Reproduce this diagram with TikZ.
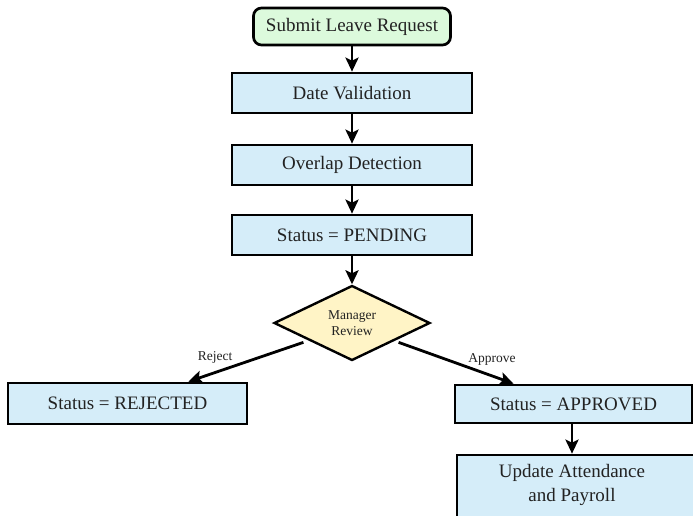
\documentclass[tikz,border=0pt]{standalone}
\usepackage{fontspec}
\setmainfont{Liberation Serif}
\usetikzlibrary{shapes.geometric,arrows.meta,calc}
\definecolor{boxblue}{HTML}{D5EDF9}
\definecolor{boxgreen}{HTML}{DCFADC}
\definecolor{boxyellow}{HTML}{FFF4C6}
\definecolor{txt}{HTML}{222222}
\tikzset{
  procbox/.style={draw=black, line width=2.7pt, fill=boxblue, inner sep=0pt,
    text=txt, font=\fontsize{19}{24}\selectfont, align=center},
  startbox/.style={procbox, fill=boxgreen, rounded corners=8pt},
  decbox/.style={draw=black, line width=2.4pt, fill=boxyellow, diamond, aspect=2,
    inner sep=0pt, minimum width=156pt, minimum height=75pt, text=txt,
    font=\fontsize{13.5}{16}\selectfont, align=center},
  flow/.style={line width=2.8pt, -{Stealth[length=14pt,width=13pt,inset=3pt]}},
  lbl/.style={text=txt, font=\fontsize{13.5}{16}\selectfont, inner sep=0pt}
}
\begin{document}
\begin{tikzpicture}[x=1pt,y=-1pt]
\useasboundingbox (0,0) rectangle (693,515);
\clip (0,0) rectangle (693,515);
\fill[white] (0,0) rectangle (693,515);
\node[startbox, minimum width=197pt, minimum height=37pt] (s) at (352,26.5) {Submit Leave Request};
\node[procbox, minimum width=240pt, minimum height=40pt] (d) at (352,93) {Date Validation};
\node[procbox, minimum width=240pt, minimum height=40pt] (o) at (352,165) {Overlap Detection};
\node[procbox, minimum width=240pt, minimum height=40pt] (p) at (352,235) {Status = PENDING};
\node[decbox] (m) at (352,323) {Manager\\Review};
\node[procbox, minimum width=239pt, minimum height=41pt] (r) at (127.5,403.5) {Status = REJECTED};
\node[procbox, minimum width=237pt, minimum height=38pt] (a) at (573.5,404) {Status = APPROVED};
\node[procbox, minimum width=260pt, minimum height=80pt] (u) at (587,495) {};
\node[text=txt, font=\fontsize{19}{24}\selectfont, align=center, inner sep=0pt] (ut) at (572,485) {Update Attendance\\and Payroll};
\draw[flow] (s) -- (d);
\draw[flow] (d) -- (o);
\draw[flow] (o) -- (p);
\draw[flow] (p) -- (m);
\draw[flow] ($(m.south west)+(-9,0)$) -- ($(r.north east)+(-60,0)$);
\draw[flow] ($(m.south east)+(7,0)$) -- ($(a.north west)+(60,0)$);
\draw[flow] (a.south -| ut) -- (u.north -| ut);
\node[lbl] (lr) at (215,357) {Reject};
\node[lbl] (la) at (492,359) {Approve};
\end{tikzpicture}
\end{document}
